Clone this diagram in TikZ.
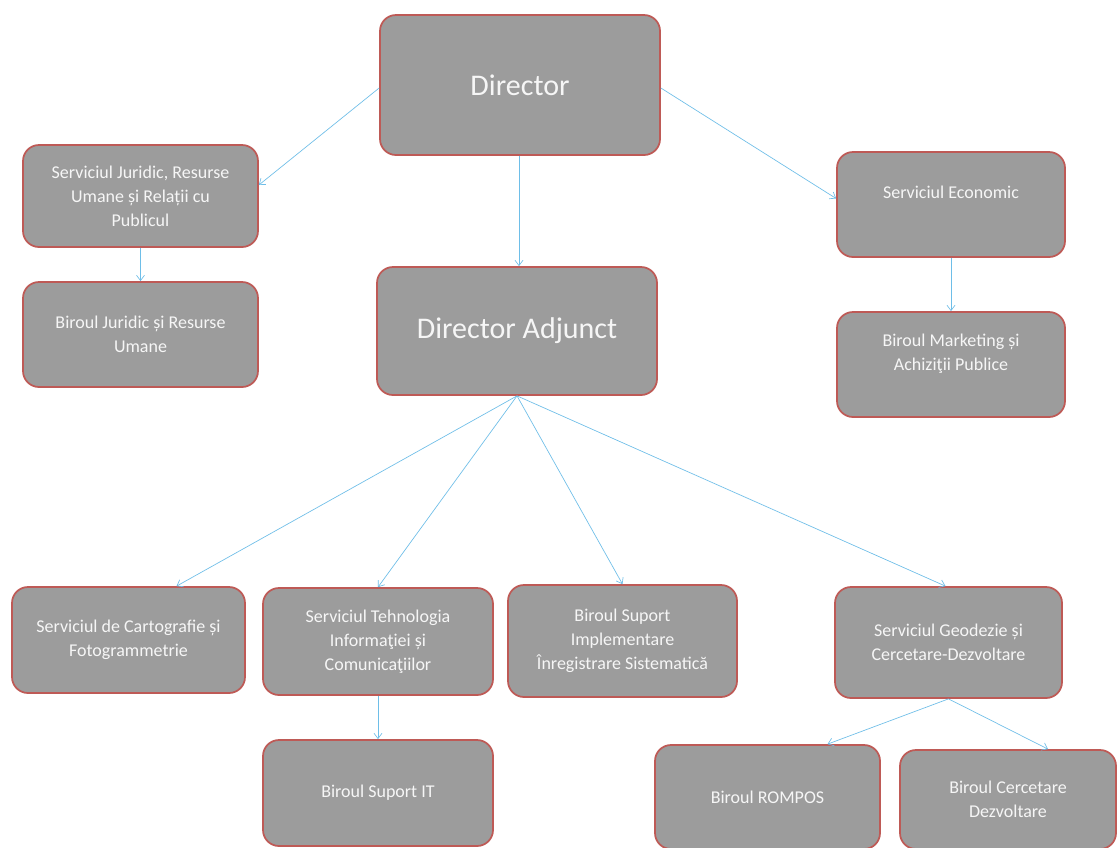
\documentclass[tikz,border=0pt]{standalone}
\usepackage{fontspec}
\setmainfont{Carlito}
\usetikzlibrary{arrows.meta,calc}
\definecolor{boxfill}{RGB}{156,156,156}
\definecolor{boxline}{RGB}{190,90,86}
\definecolor{boxtext}{RGB}{246,246,246}
\definecolor{arrowblue}{RGB}{110,190,232}
\tikzset{
  orgbox/.style={draw=boxline, line width=1.3pt, fill=boxfill, rounded corners=12pt,
    text=boxtext, align=center, inner sep=0pt,
    font=\fontsize{13.5}{18}\selectfont},
  bigbox/.style={orgbox, font=\fontsize{22.5}{27}\selectfont},
  link/.style={draw=arrowblue, line width=0.5pt, -{Straight Barb[length=4pt,width=6pt]}}
}
\begin{document}
\begin{tikzpicture}[x=0.75pt,y=-0.75pt]
\useasboundingbox[fill=white] (0,0) rectangle (1117,847);
\node[bigbox, minimum width=210pt, minimum height=105pt] (dir) at (520,85) {Director};
\node[bigbox, minimum width=210pt, minimum height=96pt] (adj) at (517,331) {Director Adjunct};
\node[orgbox, minimum width=176.25pt, minimum height=76.5pt] (jur) at (140.5,196) {Serviciul Juridic, Resurse\\Umane și Relații cu\\Publicul};
\node[orgbox, minimum width=176.25pt, minimum height=78.75pt] (bjur) at (140.5,334.5) {Biroul Juridic și Resurse\\Umane};
\node[orgbox, minimum width=171pt, minimum height=78.75pt] (eco) at (951,204.5) {Serviciul Economic\\\mbox{}};
\node[orgbox, minimum width=171pt, minimum height=78.75pt] (mkt) at (951,364.5) {Biroul Marketing și\\Achiziţii Publice\\\mbox{}};
\node[orgbox, minimum width=174.75pt, minimum height=79.5pt] (carto) at (128.5,640) {Serviciul de Cartografie și\\Fotogrammetrie};
\node[orgbox, minimum width=172.5pt, minimum height=80.25pt] (tehn) at (378,641.5) {Serviciul Tehnologia\\Informaţiei și\\Comunicaţiilor};
\node[orgbox, minimum width=171.75pt, minimum height=84pt] (impl) at (622.5,641) {Biroul Suport\\Implementare\\Înregistrare Sistematică};
\node[orgbox, minimum width=170.25pt, minimum height=83.25pt] (geo) at (948.5,642.5) {Serviciul Geodezie și\\Cercetare-Dezvoltare};
\node[orgbox, minimum width=172.5pt, minimum height=79.5pt] (it) at (378,793) {Biroul Suport IT};
\node[orgbox, minimum width=168.75pt, minimum height=78pt] (rompos) at (767.5,797) {Biroul ROMPOS};
\node[orgbox, minimum width=162pt, minimum height=74.25pt] (cerc) at (1008,799.5) {Biroul Cercetare\\Dezvoltare};
% connectors
\draw[link] ($(dir.west)+(0,3)$) -- ($(jur.east)+(0,-11)$);
\draw[link] ($(dir.south)+(-1,0)$) -- ($(dir.south |- adj.north)+(-1,0)$);
\draw[link] ($(dir.east)+(0,3)$) -- ($(eco.west)+(0,-6)$);
\draw[link] (jur.south) -- (bjur.north);
\draw[link] (eco.south) -- (mkt.north);
\draw[link] (adj.south) -- ($(carto.north)+(48,0)$);
\draw[link] (adj.south) -- (tehn.north);
\draw[link] (adj.south) -- (impl.north);
\draw[link] (adj.south) -- ($(geo.north)+(-3,0)$);
\draw[link] (tehn.south) -- (it.north);
\draw[link] (geo.south) -- ($(rompos.north)+(60,0)$);
\draw[link] (geo.south) -- ($(cerc.north)+(40,0)$);
\end{tikzpicture}
\end{document}
